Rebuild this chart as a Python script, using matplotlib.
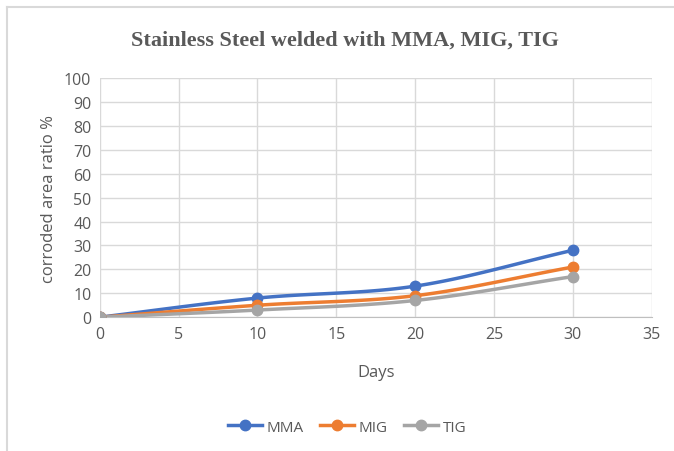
import numpy as np
import matplotlib.pyplot as plt
from matplotlib.lines import Line2D

days = [0, 10, 20, 30]
mma = [0, 8, 13, 28]
mig = [0, 5, 9, 21]
tig = [0, 3, 7, 17]

series = [("MMA", mma, "#4472C4"), ("MIG", mig, "#ED7D31"), ("TIG", tig, "#A5A5A5")]


def smooth(x, y, n=40):
    # Catmull-Rom style curve through the points, like Excel's smoothed line
    x = np.asarray(x, float)
    y = np.asarray(y, float)
    px = np.concatenate([[2 * x[0] - x[1]], x, [2 * x[-1] - x[-2]]])
    py = np.concatenate([[2 * y[0] - y[1]], y, [2 * y[-1] - y[-2]]])
    xs, ys = [], []
    t = np.linspace(0, 1, n)
    for i in range(1, len(px) - 2):
        p0, p1, p2, p3 = (np.array([px[j], py[j]]) for j in range(i - 1, i + 3))
        for tt in t:
            pt = 0.5 * ((2 * p1) + (-p0 + p2) * tt
                        + (2 * p0 - 5 * p1 + 4 * p2 - p3) * tt ** 2
                        + (-p0 + 3 * p1 - 3 * p2 + p3) * tt ** 3)
            xs.append(pt[0])
            ys.append(pt[1])
    return xs, ys


fig = plt.figure(figsize=(6.74, 4.52), dpi=100)
ax = fig.add_axes([0.148, 0.296, 0.819, 0.529])

for name, vals, col in series:
    sx, sy = smooth(days, vals)
    ax.plot(sx, sy, color=col, lw=2.5, zorder=3, solid_capstyle="round")
    ax.plot(days, vals, "o", color=col, ms=7.5, zorder=4)

ax.set_xlim(0, 35)
ax.set_ylim(0, 100)
ax.set_xticks(range(0, 36, 5))
ax.set_yticks(range(0, 101, 10))
ax.grid(True, color="#D9D9D9", lw=1)
ax.set_axisbelow(True)
for s in ["top", "right", "left"]:
    ax.spines[s].set_visible(False)
ax.spines["bottom"].set_color("#BFBFBF")
ax.tick_params(length=0, labelsize=11.5, colors="#595959", pad=6)
for lbl in ax.get_xticklabels() + ax.get_yticklabels():
    lbl.set_family("Open Sans")
ax.set_xlabel("Days", fontsize=12, color="#595959", family="Open Sans", labelpad=16)
ax.set_ylabel("corroded area ratio %", fontsize=12, color="#595959", family="Open Sans", labelpad=5)

fig.text(0.512, 0.91, "Stainless Steel welded with MMA, MIG, TIG", ha="center", va="center",
         fontsize=16, fontweight="bold", color="#595959", family="Liberation Serif")

handles = [Line2D([], [], color=c, lw=2.5, marker="o", ms=7.5) for _, _, c in series]
leg = fig.legend(handles, [n for n, _, _ in series], loc="center", bbox_to_anchor=(0.515, 0.053),
                 ncol=3, frameon=False, handlelength=2.2, columnspacing=1.1, handletextpad=0.3,
                 prop={"family": "Open Sans", "size": 11})
for t in leg.get_texts():
    t.set_color("#595959")

# chart frame (left and top edges visible in the reference)
fig.add_artist(Line2D([0.011, 0.011], [0, 0.982], color="#D9D9D9", lw=1.5, transform=fig.transFigure))
fig.add_artist(Line2D([0.011, 1.0], [0.982, 0.982], color="#D9D9D9", lw=1.5, transform=fig.transFigure))

fig.savefig("out.png", dpi=100)
